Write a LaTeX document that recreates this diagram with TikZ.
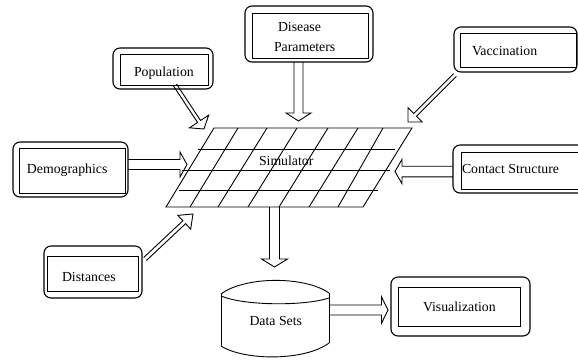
\documentclass[tikz,border=0pt]{standalone}
\usepackage{fontspec}
\setmainfont{Liberation Serif}
\usetikzlibrary{calc}
% block arrow: #1 start, #2 tip, #3 shaft half width, #4 head half width, #5 head length
\newcommand\blockarrow[5]{%
  \coordinate (ba-h) at ($(#2)!#5!(#1)$);
  \draw[arrowline] ($(#1)!#3!90:(#2)$) -- ($(ba-h)!#3!90:(#2)$) -- ($(ba-h)!#4!90:(#2)$)
    -- (#2) -- ($(ba-h)!#4!-90:(#2)$) -- ($(ba-h)!#3!-90:(#2)$) -- ($(#1)!#3!-90:(#2)$);
}
\begin{document}
\begin{tikzpicture}[x=1pt,y=-1pt,
  every node/.style={inner sep=0pt, outer sep=0pt},
  txt/.style={anchor=base west, font=\fontsize{13.8}{16}\selectfont},
  inbox/.style={draw, rectangle, line width=0.9pt},
  outbox/.style={draw, rectangle, line width=1.1pt, rounded corners=7pt},
  gridline/.style={line width=0.9pt},
  arrowline/.style={line width=0.9pt, line join=miter},
  cyl/.style={line width=0.9pt},
]
\clip (0,0) rectangle (578,360);

% ---------- boxes ----------
\node[outbox, minimum width=100pt, minimum height=41pt] (popO) at (163,68.5) {};
\node[inbox,  minimum width=88pt,  minimum height=31pt] (pop)  at (164,69.5) {};
\node[txt] (popT) at (134,76) {Population};

\node[outbox, minimum width=128pt, minimum height=56pt] (disO) at (309,34) {};
\node[inbox,  minimum width=116pt, minimum height=45pt] (dis)  at (310,35.5) {};
\node[txt] (disT1) at (278,31) {Disease};
\node[txt] (disT2) at (274,51) {Parameters};

\node[outbox, minimum width=123pt, minimum height=45pt] (vacO) at (515.5,49.5) {};
\node[inbox,  minimum width=116pt, minimum height=34pt] (vac)  at (518,50) {};
\node[txt] (vacT) at (472,55) {Vaccination};

\node[outbox, minimum width=157pt, minimum height=48pt] (conO) at (531.5,169) {};
\node[inbox,  minimum width=144pt, minimum height=37pt] (con)  at (533,170.5) {};
\node[txt] (conT) at (462,173) {Contact Structure};

\node[outbox, minimum width=115pt, minimum height=55pt] (demO) at (70.5,169.5) {};
\node[inbox,  minimum width=106pt, minimum height=45pt] (dem)  at (72,170.5) {};
\node[txt] (demT) at (27,173) {Demographics};

\node[outbox, minimum width=98pt, minimum height=52pt] (dstO) at (93,272) {};
\node[inbox,  minimum width=91pt, minimum height=35pt] (dst)  at (92.5,273.5) {};
\node[txt] (dstT) at (62,281) {Distances};

\node[outbox, minimum width=139pt, minimum height=59pt] (visO) at (460.5,306.5) {};
\node[inbox,  minimum width=122pt, minimum height=39pt] (vis)  at (459,306.5) {};
\node[txt] (visT) at (423,311.5) {Visualization};

% ---------- simulator grid ----------
\coordinate (gBL) at (166,207);
\coordinate (gBR) at (363,207);
\coordinate (gTR) at (412,128);
\coordinate (gTL) at (214,128);
\draw[gridline] (gBL) -- (gBR) -- (gTR) -- (gTL) -- cycle;
\draw[gridline] (198,149) -- (395,149);
\draw[gridline] (182,170) -- (390,170);
\draw[gridline] (179,190) -- (378,190);
\foreach \t/\b in {238/190, 267/218, 297/248, 328/279, 358/309, 383/338}
  \draw[gridline] (\t,128) -- (\b,207);
\node[txt] (simT) at (259,165) {Simulator};

% ---------- data sets cylinder ----------
\draw[cyl] (221,294) .. controls (245,276) and (305,276) .. (329,293);
\draw[cyl] (221,296) .. controls (245,306) and (305,306) .. (329,298);
\draw[cyl] (221,294) -- (221,346);
\draw[cyl] (329,293) -- (329,343);
\draw[cyl] (221,346) .. controls (245,361) and (305,361) .. (329,343);
\node[txt] (dsT) at (249.5,325) {Data Sets};

% ---------- arrows ----------
\coordinate (aPopS) at (175,85);    \coordinate (aPopE) at (204,129);
\coordinate (aDisS) at (298.5,62);  \coordinate (aDisE) at (298.5,121);
\coordinate (aVacS) at (455,75);    \coordinate (aVacE) at (408,122);
\coordinate (aDemS) at (128,164.5); \coordinate (aDemE) at (187,164.5);
\coordinate (aConS) at (453,171.5); \coordinate (aConE) at (395,171.5);
\coordinate (aDstS) at (145,259);   \coordinate (aDstE) at (193,214);
\coordinate (aSimS) at (274.5,207); \coordinate (aSimE) at (274.5,267);
\coordinate (aDsS)  at (329,310);   \coordinate (aDsE)  at (388,310);

\blockarrow{aPopS}{aPopE}{1.8pt}{11.5pt}{9pt}
\blockarrow{aDisS}{aDisE}{4.5pt}{12.5pt}{8pt}
\blockarrow{aVacS}{aVacE}{2pt}{10pt}{10pt}
\blockarrow{aDemS}{aDemE}{5pt}{12.5pt}{7pt}
\blockarrow{aConS}{aConE}{5.3pt}{12.2pt}{7pt}
\blockarrow{aDstS}{aDstE}{2pt}{9.4pt}{12pt}
\blockarrow{aSimS}{aSimE}{5pt}{13pt}{8pt}
\blockarrow{aDsS}{aDsE}{5pt}{13.3pt}{6.5pt}
\end{tikzpicture}
\end{document}
